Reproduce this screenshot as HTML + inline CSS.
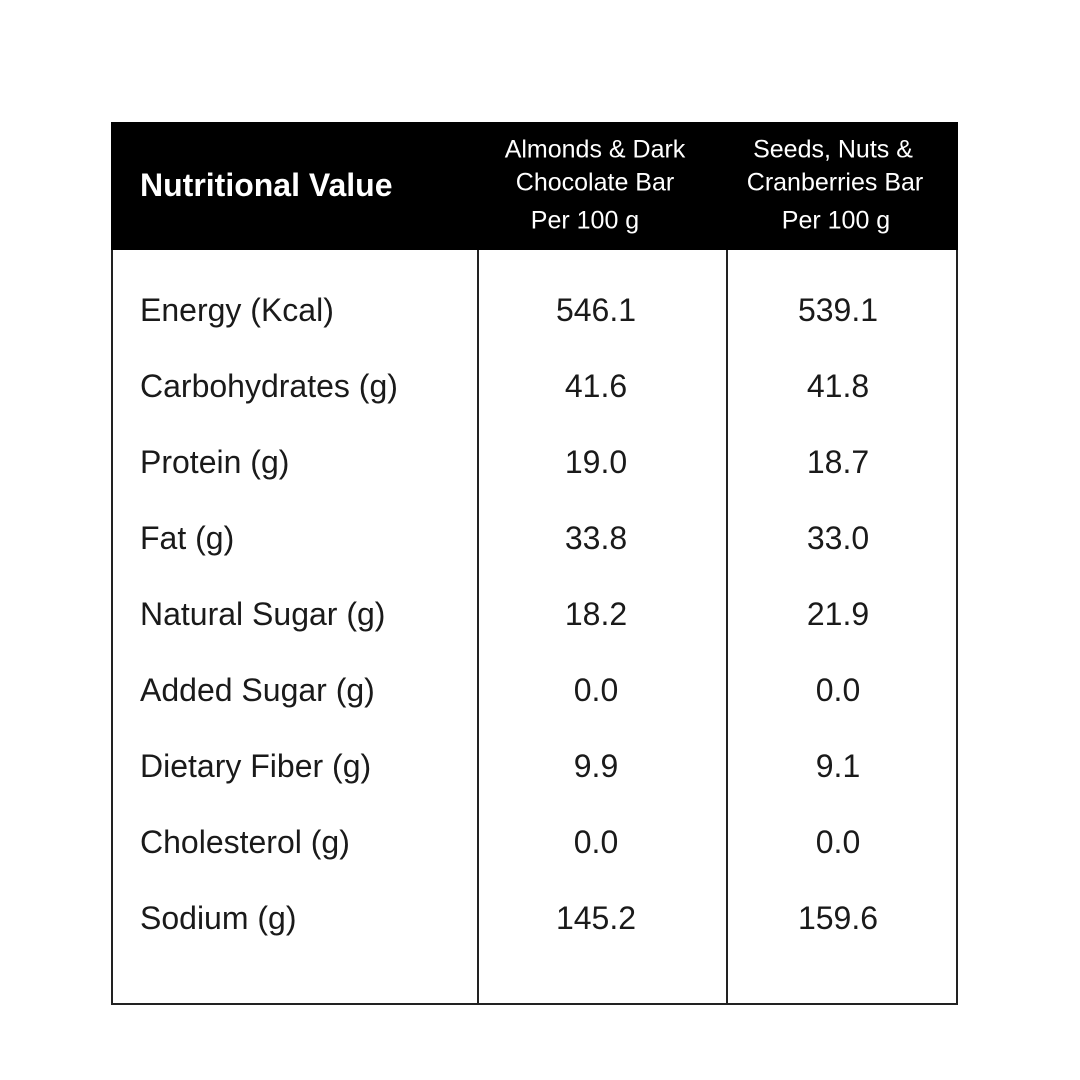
<!DOCTYPE html>
<html><head><meta charset="utf-8">
<style>
body{margin:0;background:#fff;}
#wrap{position:relative;width:1080px;height:1080px;background:#fff;font-family:"Liberation Sans",sans-serif;color:#1a1a1a;overflow:hidden;}
.box{position:absolute;left:111px;top:122px;width:843px;height:879px;border:2px solid #222;}
.hdr{position:absolute;left:111px;top:122px;width:847px;height:128px;background:#000;}
.vline{position:absolute;top:250px;width:2px;height:753px;background:#222;}
.t{position:absolute;white-space:nowrap;line-height:1;}
.h{color:#fff;font-size:25px;transform:translate(-50%,-50%);}
.lab{font-size:32px;left:140px;transform:translateY(-50%);}
.val{font-size:32px;transform:translate(-50%,-50%);}
</style></head><body>
<div id="wrap">
<div class="box"></div>
<div class="hdr"></div>
<div class="vline" style="left:477px"></div>
<div class="vline" style="left:726px"></div>
<div class="t" style="left:140px;top:185px;transform:translateY(-50%);color:#fff;font-size:32px;font-weight:bold;">Nutritional Value</div>
<div class="t h" style="left:595px;top:150px">Almonds &amp; Dark</div>
<div class="t h" style="left:595px;top:183px">Chocolate Bar</div>
<div class="t h" style="left:585px;top:221px">Per 100 g</div>
<div class="t h" style="left:833px;top:150px">Seeds, Nuts &amp;</div>
<div class="t h" style="left:835px;top:183px">Cranberries Bar</div>
<div class="t h" style="left:836px;top:221px">Per 100 g</div>
</div>
<script>
const nutrients=["Energy (Kcal)","Carbohydrates (g)","Protein (g)","Fat (g)","Natural Sugar (g)","Added Sugar (g)","Dietary Fiber (g)","Cholesterol (g)","Sodium (g)"];
const almondValues=["546.1","41.6","19.0","33.8","18.2","0.0","9.9","0.0","145.2"];
const seedsValues=["539.1","41.8","18.7","33.0","21.9","0.0","9.1","0.0","159.6"];
const wrap=document.getElementById('wrap');
function rowY(i){return 310+i*76;}
nutrients.forEach((n,i)=>{
  const y=rowY(i);
  const a=document.createElement('div');
  a.className='t lab';a.style.top=y+'px';a.textContent=n;
  
  
  wrap.appendChild(a);
  const b=document.createElement('div');
  b.className='t val';b.style.top=y+'px';b.style.left='596px';b.textContent=almondValues[i];
  
  
  wrap.appendChild(b);
  const c=document.createElement('div');
  c.className='t val';c.style.top=y+'px';c.style.left='838px';c.textContent=seedsValues[i];
  
  
  wrap.appendChild(c);
});
</script>
</body></html>
